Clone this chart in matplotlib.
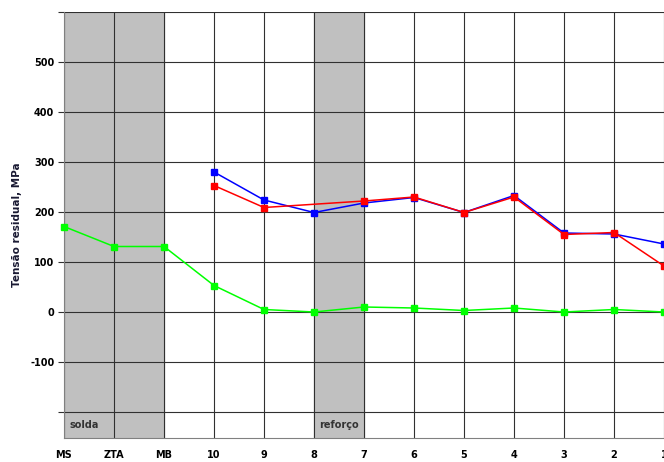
import numpy as np
import matplotlib
matplotlib.use('Agg')
from matplotlib import pyplot as plt

# Categories along the x axis (positions along the specimen)
categories = ['MS', 'ZTA', 'MB', '10', '9', '8', '7', '6', '5', '4', '3', '2', '1']

# Green series: all positions
green_vals = [171, 131, 131, 53, 5, 0, 10, 8, 3, 8, 0, 5, 0]

# Blue series: points 10 to 1
blue_cats = ['10', '9', '8', '7', '6', '5', '4', '3', '2', '1']
blue_vals = [280, 224, 199, 218, 229, 199, 233, 158, 156, 136]

# Red series: no value at point 8
red_cats = ['10', '9', '7', '6', '5', '4', '3', '2', '1']
red_vals = [253, 209, 222, 230, 199, 230, 155, 159, 92]

# Shaded zones (first and last category) and their labels
zones = [('MS', 'MB', 'solda'), ('8', '7', 'reforço')]

pos = {c: i for i, c in enumerate(categories)}

fig = plt.figure(figsize=(6.64, 4.62), dpi=100)
ax = fig.add_axes([64 / 664, 24 / 462, 630 / 664, 426 / 462])

ax.set_xlim(0, 12.6)
ax.set_ylim(-252, 600)

# Gray shaded areas
for start, end, label in zones:
    ax.axvspan(pos[start], pos[end], color='#c0c0c0', zorder=0)
    ax.text(pos[start] + 0.1, -226, label, fontsize=7, fontweight='bold',
            color='#333333', ha='left', va='center', zorder=1)

# Grid
grid_color = '#303030'
for i in range(len(categories)):
    ax.axvline(i, color=grid_color, lw=0.8, zorder=1)
for yv in range(-200, 601, 100):
    ax.axhline(yv, color=grid_color, lw=0.8, zorder=1)

# Series
ax.plot([pos[c] for c in categories], green_vals, color='#00ff00', lw=1.1,
        marker='s', ms=4.5, zorder=3, clip_on=False)
ax.plot([pos[c] for c in blue_cats], blue_vals, color='#0000ff', lw=1.1,
        marker='s', ms=4.5, zorder=4, clip_on=False)
ax.plot([pos[c] for c in red_cats], red_vals, color='#ff0000', lw=1.1,
        marker='s', ms=4.5, zorder=5, clip_on=False)

# Axes styling
for side in ['top', 'right']:
    ax.spines[side].set_visible(False)
ax.spines['left'].set_color('#808080')
ax.spines['bottom'].set_color('#808080')

yticks = list(range(-200, 601, 100))
ax.set_yticks(yticks)
ax.set_yticklabels([str(v) if -100 <= v <= 500 else '' for v in yticks],
                   fontsize=7, fontweight='bold')
ax.tick_params(axis='y', length=4, color=grid_color, pad=3)

ax.set_xticks(range(len(categories)))
ax.set_xticklabels(categories, fontsize=7, fontweight='bold')
ax.tick_params(axis='x', length=0, pad=9)

ax.set_ylabel('Tensão residual, MPa', fontsize=7.5, fontweight='bold',
              color='#1a1a33', labelpad=6)

fig.savefig('out.png', dpi=100)
